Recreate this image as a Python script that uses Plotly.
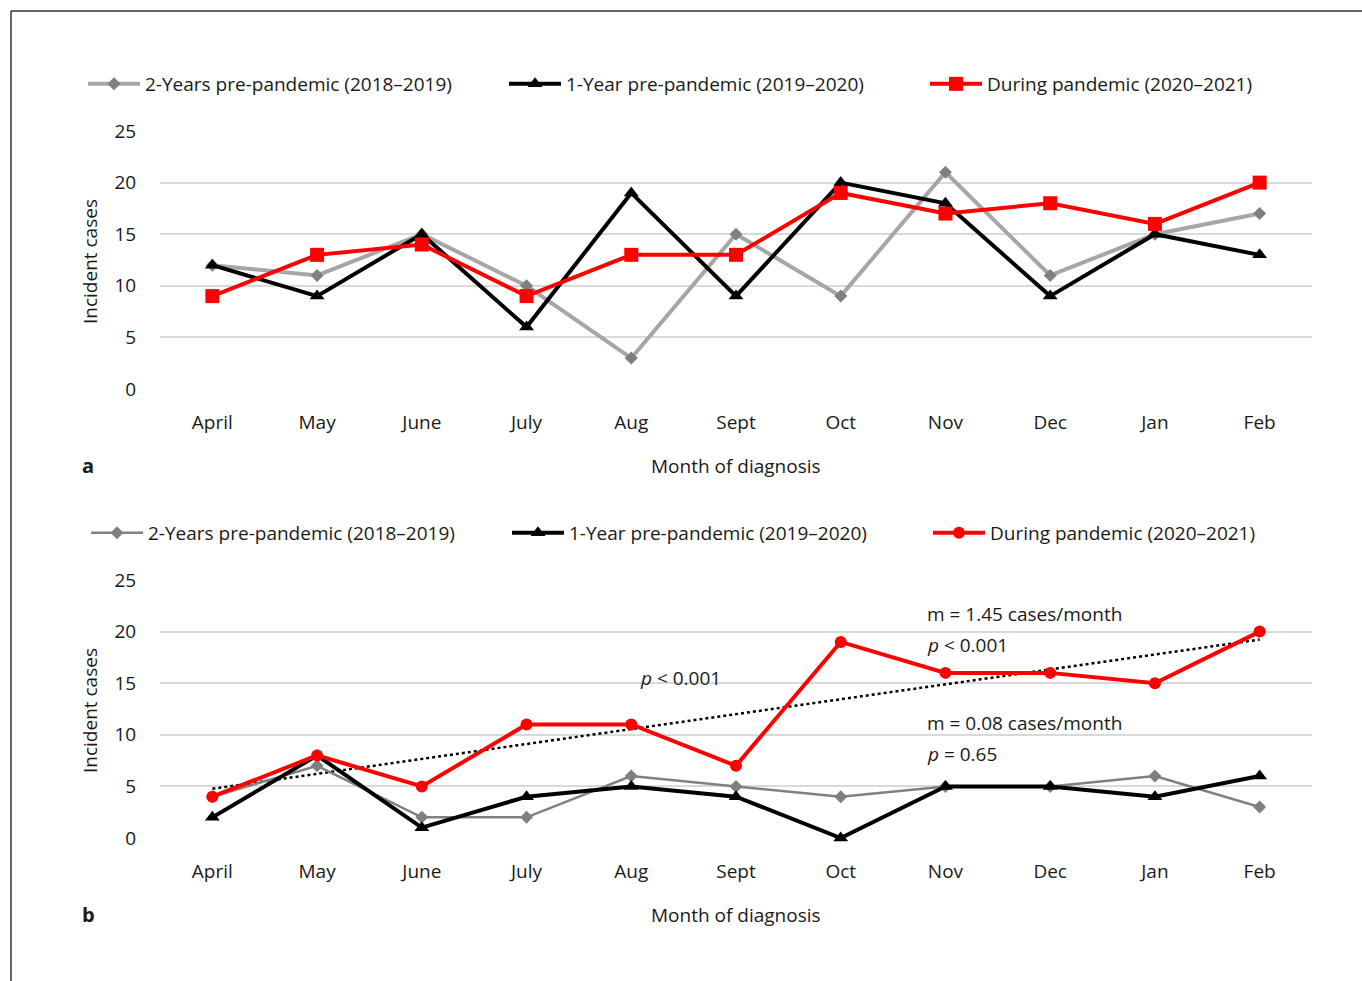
import numpy as np
import plotly.graph_objects as go
from plotly.subplots import make_subplots

months = ["April", "May", "June", "July", "Aug", "Sept", "Oct", "Nov", "Dec", "Jan", "Feb"]
series_names = [
    "2-Years pre-pandemic (2018–2019)",
    "1-Year pre-pandemic (2019–2020)",
    "During pandemic (2020–2021)",
]

# Panel a: incident cases per month
a_two_years_pre = [12, 11, 15, 10, 3, 15, 9, 21, 11, 15, 17]
a_one_year_pre = [12, 9, 15, 6, 19, 9, 20, 18, 9, 15, 13]
a_pandemic = [9, 13, 14, 9, 13, 13, 19, 17, 18, 16, 20]

# Panel b: incident cases per month
b_two_years_pre = [4, 7, 2, 2, 6, 5, 4, 5, 5, 6, 3]
b_one_year_pre = [2, 8, 1, 4, 5, 4, 0, 5, 5, 4, 6]
b_pandemic = [4, 8, 5, 11, 11, 7, 19, 16, 16, 15, 20]

y_ticks = [0, 5, 10, 15, 20, 25]

FONT = "Open Sans"
TXT = "#1a1a1a"
FS = 19
W, H = 1362, 981

fig = make_subplots(rows=2, cols=1)

def add_panel(row, legend, gray, black, red, red_symbol, red_size, gray_width, gray_line):
    fig.add_trace(go.Scatter(
        x=months, y=gray, name=series_names[0], mode="lines+markers",
        line=dict(color=gray_line, width=gray_width),
        marker=dict(symbol="diamond", size=10, color="#7f7f7f"),
        legend=legend, cliponaxis=False), row=row, col=1)
    fig.add_trace(go.Scatter(
        x=months, y=black, name=series_names[1], mode="lines+markers",
        line=dict(color="#000000", width=4),
        marker=dict(symbol="triangle-up", size=13, color="#000000"),
        legend=legend, cliponaxis=False), row=row, col=1)
    fig.add_trace(go.Scatter(
        x=months, y=red, name=series_names[2], mode="lines+markers",
        line=dict(color="#ff0000", width=4),
        marker=dict(symbol=red_symbol, size=red_size, color="#ff0000"),
        legend=legend, cliponaxis=False), row=row, col=1)

add_panel(1, "legend", a_two_years_pre, a_one_year_pre, a_pandemic,
          "square", 14, 4, "#a6a6a6")
add_panel(2, "legend2", b_two_years_pre, b_one_year_pre, b_pandemic,
          "circle", 12, 2.5, "#808080")

# Linear trend of the pandemic-year series in panel b
idx = np.arange(len(months))
slope, intercept = np.polyfit(idx, b_pandemic, 1)
trend = slope * idx + intercept
fig.add_trace(go.Scatter(
    x=months, y=trend, mode="lines", showlegend=False,
    line=dict(color="#000000", width=2.5, dash="dot"), hoverinfo="skip"),
    row=2, col=1)
# keep the trend line under the data lines
fig.data = (fig.data[-1],) + fig.data[:-1]

x0, x1 = 160 / W, 1312 / W
doms = [(1 - 389 / H, 1 - 131 / H), (1 - 838 / H, 1 - 580 / H)]

for i, (lo, hi) in enumerate(doms, start=1):
    sfx = "" if i == 1 else str(i)
    fig.layout["xaxis" + sfx].update(
        domain=[x0, x1], range=[-0.5, len(months) - 0.5],
        showgrid=False, zeroline=False, showline=False,
        ticks="outside", ticklen=16, tickcolor="rgba(0,0,0,0)",
        tickfont=dict(family=FONT, size=FS, color=TXT), fixedrange=True)
    fig.layout["yaxis" + sfx].update(
        domain=[lo, hi], range=[0, 25], tickvals=y_ticks,
        showgrid=True, gridcolor="#d9d9d9", gridwidth=1.5,
        zeroline=False, showline=False,
        ticks="outside", ticklen=19, tickcolor="rgba(0,0,0,0)",
        tickfont=dict(family=FONT, size=FS, color=TXT), fixedrange=True)

annotations = []
for letter, ytitle_y, xtitle_y in [("a", 262, 466), ("b", 711, 915)]:
    annotations.append(dict(
        x=736 / W, y=1 - xtitle_y / H, xref="paper", yref="paper",
        xanchor="center", yanchor="middle",
        text="Month of diagnosis", showarrow=False,
        font=dict(family=FONT, size=FS, color=TXT)))
    annotations.append(dict(
        x=90 / W, y=1 - ytitle_y / H, xref="paper", yref="paper",
        xanchor="center", yanchor="middle",
        text="Incident cases", textangle=-90, showarrow=False,
        font=dict(family=FONT, size=FS, color=TXT)))
    annotations.append(dict(
        x=88 / W, y=1 - (xtitle_y - 1) / H, xref="paper", yref="paper",
        xanchor="center", yanchor="middle",
        text="<b>" + letter + "</b>", showarrow=False,
        font=dict(family=FONT, size=20, color=TXT)))

# Regression annotations in panel b
for text, px, py in [
        ("<i>p</i> &lt; 0.001", 638, 678),
        ("m = 1.45 cases/month", 925, 614),
        ("<i>p</i> &lt; 0.001", 925, 645),
        ("m = 0.08 cases/month", 925, 723),
        ("<i>p</i> = 0.65", 925, 754)]:
    annotations.append(dict(
        x=px / W, y=1 - py / H, xref="paper", yref="paper",
        xanchor="left", yanchor="middle", text=text, showarrow=False,
        font=dict(family=FONT, size=FS, color=TXT)))

legend_style = dict(
    orientation="h", xanchor="left", yanchor="middle",
    font=dict(family=FONT, size=FS, color=TXT),
    bgcolor="rgba(0,0,0,0)", entrywidth=354, itemwidth=52,
    traceorder="normal")

fig.update_layout(
    width=W, height=H, autosize=False,
    margin=dict(l=0, r=0, t=0, b=0, autoexpand=False),
    paper_bgcolor="#ffffff", plot_bgcolor="#ffffff",
    showlegend=True,
    legend=dict(x=83 / W, y=1 - 84 / H, **legend_style),
    legend2=dict(x=86 / W, y=1 - 533 / H, **legend_style),
    annotations=annotations,
    shapes=[
        dict(type="line", xref="paper", yref="paper",
             x0=11 / W, x1=1, y0=1 - 11 / H, y1=1 - 11 / H,
             line=dict(color="#333333", width=1.5)),
        dict(type="line", xref="paper", yref="paper",
             x0=11 / W, x1=11 / W, y0=0, y1=1 - 11 / H,
             line=dict(color="#333333", width=1.5)),
    ],
)

fig.write_html("out.html")
